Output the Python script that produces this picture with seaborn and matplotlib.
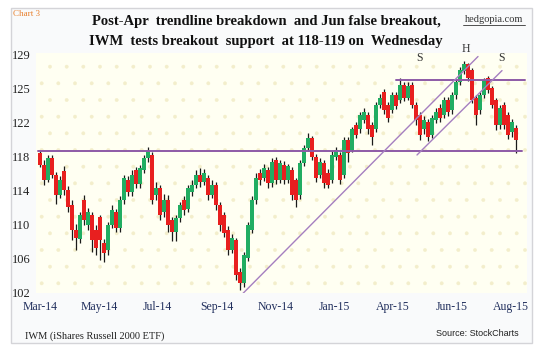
import numpy as np
import matplotlib
matplotlib.use("Agg")
import matplotlib.pyplot as plt
from matplotlib.patches import Rectangle
from matplotlib.lines import Line2D
import seaborn as sns

# IWM candles (one candle every few sessions)
opens = [117.8, 116.5, 114.8, 117.3, 115.3, 113.0, 115.8, 113.6, 111.9, 109.1,
         108.0, 112.5, 109.6, 110.8, 109.1, 110.5, 107.6, 106.8, 109.6, 111.1,
         109.3, 112.5, 114.8, 113.4, 115.9, 114.3, 115.9, 117.3, 117.6, 113.0,
         113.8, 111.1, 112.5, 110.2, 108.8, 110.4, 112.5, 111.5, 113.4, 114.2,
         115.3, 114.5, 115.0, 113.0, 114.2, 111.9, 110.8, 109.1, 106.8, 107.9,
         104.3, 103.0, 105.9, 109.1, 112.5, 115.6, 115.0, 115.9, 114.4, 117.0,
         114.8, 116.5, 114.8, 115.9, 114.8, 113.0, 116.7, 118.4, 119.5, 117.4,
         115.3, 116.7, 115.6, 114.8, 117.4, 117.6, 115.3, 119.3, 118.2, 121.0,
         120.5, 121.6, 122.2, 121.0, 120.5, 123.3, 124.8, 123.3, 122.7, 124.4,
         123.9, 125.6, 124.1, 125.6, 123.3, 122.2, 120.5, 121.4, 119.9, 121.6,
         123.0, 122.2, 123.9, 122.7, 124.4, 125.9, 127.1, 127.9, 127.3, 124.1,
         122.7, 124.4, 126.4, 125.2, 123.9, 121.0, 123.3, 122.2, 120.2, 120.7]
highs = [118.0, 117.0, 117.6, 117.6, 115.7, 115.2, 116.4, 114.1, 112.5, 109.8,
         111.1, 113.0, 111.6, 111.1, 109.6, 110.8, 108.0, 110.0, 111.9, 111.5,
         112.9, 115.3, 115.2, 115.9, 116.2, 116.5, 117.6, 118.5, 117.9, 114.5,
         114.2, 113.2, 113.0, 110.6, 110.8, 112.3, 112.9, 114.2, 114.8, 115.9,
         116.1, 116.0, 115.3, 114.8, 114.5, 112.2, 111.1, 109.5, 108.6, 108.2,
         104.8, 106.6, 110.0, 112.9, 115.5, 116.0, 116.6, 116.2, 117.2, 117.4,
         117.0, 116.9, 116.6, 116.2, 115.0, 117.0, 118.7, 120.1, 119.8, 117.7,
         117.2, 117.0, 116.0, 118.0, 118.5, 117.9, 119.6, 119.7, 120.8, 121.3,
         122.5, 122.9, 122.5, 121.3, 123.6, 124.5, 125.1, 123.6, 124.8, 124.8,
         126.4, 125.9, 125.9, 125.9, 123.6, 122.5, 122.0, 121.7, 122.2, 122.9,
         123.4, 124.2, 124.2, 124.8, 126.2, 127.6, 128.3, 128.1, 127.5, 124.4,
         124.8, 126.4, 126.6, 125.5, 124.1, 123.3, 123.6, 122.5, 121.7, 121.0]
lows = [116.2, 114.2, 114.5, 115.0, 112.0, 112.7, 113.0, 111.1, 107.9, 106.8,
        107.6, 109.6, 109.1, 106.6, 106.2, 105.6, 105.4, 106.2, 109.3, 108.8,
        108.8, 112.0, 112.9, 112.9, 113.8, 113.9, 115.6, 116.8, 112.0, 112.5,
        110.2, 110.6, 108.8, 107.8, 107.8, 110.0, 110.8, 111.1, 112.9, 113.8,
        114.0, 114.2, 112.5, 112.7, 111.3, 109.0, 108.3, 106.2, 106.4, 103.4,
        102.2, 102.6, 105.5, 108.7, 112.0, 114.2, 114.6, 113.9, 114.0, 114.3,
        114.4, 114.3, 114.4, 112.5, 111.7, 112.6, 116.3, 118.0, 117.0, 114.5,
        115.0, 113.9, 113.8, 114.4, 117.0, 114.3, 115.0, 116.8, 117.9, 119.5,
        120.1, 121.2, 120.0, 118.7, 120.2, 122.9, 122.3, 121.3, 122.4, 122.8,
        123.5, 123.7, 123.8, 122.9, 121.0, 119.3, 120.0, 119.2, 119.5, 121.2,
        121.4, 121.8, 122.0, 122.3, 124.0, 125.6, 126.8, 126.0, 123.5, 121.0,
        122.3, 124.1, 124.6, 122.9, 120.4, 120.5, 120.5, 119.4, 119.6, 117.8]
closes = [116.5, 114.8, 117.3, 115.3, 113.0, 114.8, 113.6, 111.7, 109.1, 108.2,
          110.8, 110.2, 111.1, 107.9, 107.0, 107.9, 106.4, 109.6, 111.3, 109.3,
          112.5, 115.0, 113.4, 115.3, 114.3, 116.1, 117.3, 118.0, 112.5, 113.8,
          110.8, 112.5, 109.6, 108.8, 110.4, 111.9, 111.3, 113.8, 114.2, 115.3,
          114.5, 115.6, 113.0, 114.2, 111.9, 109.6, 108.7, 106.8, 108.2, 103.9,
          103.0, 106.2, 109.6, 112.5, 115.0, 114.8, 116.1, 114.4, 116.8, 114.8,
          116.7, 114.8, 116.3, 113.0, 112.5, 116.7, 118.4, 119.5, 117.4, 115.0,
          116.8, 114.4, 114.2, 117.6, 118.2, 114.8, 119.3, 117.8, 120.5, 119.9,
          122.2, 122.5, 120.5, 119.7, 123.3, 124.1, 122.7, 121.8, 124.4, 123.2,
          125.6, 124.1, 125.5, 123.3, 121.6, 119.9, 121.6, 119.7, 121.8, 122.5,
          121.8, 123.9, 122.5, 124.4, 125.9, 127.3, 127.9, 126.4, 123.9, 122.2,
          124.4, 126.1, 125.0, 123.3, 121.0, 123.0, 121.0, 119.9, 121.4, 119.3]

month_labels = ["Mar-14", "May-14", "Jul-14", "Sep-14", "Nov-14",
                "Jan-15", "Apr-15", "Jun-15", "Aug-15"]
price_labels = ["102", "106", "110", "114", "118", "122", "125", "129"]

# support / resistance and trend channel (bar index, price)
support = 118.0
neckline = 126.15
trend_a = [(49.75, 101.4), (109.5, 128.8)]
trend_b = [(94.25, 117.6), (115.5, 127.2)]

sns.set_theme(style="white")
plt.rcParams["font.family"] = ["Liberation Serif", "DejaVu Serif"]
plt.rcParams["hatch.linewidth"] = 0.3

fig = plt.figure(figsize=(5.4, 3.53), dpi=100)
fig.patch.set_facecolor("white")
frame = Rectangle((11 / 540, 1 - 343 / 353), 521 / 540, 335 / 353,
                  transform=fig.transFigure, facecolor="#f9fafb",
                  edgecolor="#d4d4d8", linewidth=1.0, zorder=-5)
fig.patches.append(frame)

ax = fig.add_axes([36 / 540, 1 - 293 / 353, 491 / 540, 240 / 353])
ax.set_zorder(2)
ax.set_facecolor("#fffff2")
for s in ax.spines.values():
    s.set_visible(False)
# faint dotted paper
ax.add_patch(Rectangle((0, 0), 1, 1, transform=ax.transAxes, facecolor="none",
                       edgecolor="#f3eecb", hatch=".", linewidth=0, zorder=0))

o = np.array(opens)
h = np.array(highs)
l = np.array(lows)
c = np.array(closes)
idx = np.arange(len(c))
up = c >= o
cols = np.where(up, "#21ad62", "#e81f1f")

ax.vlines(idx, l, h, color="#1a1a1a", linewidth=0.9, zorder=2)
ax.bar(idx, np.maximum(np.abs(c - o), 0.15), bottom=np.minimum(o, c),
       width=0.85, color=cols, linewidth=0, zorder=3)

line_col = "#a57fc0"
sns.lineplot(x=[-0.5, 120.5], y=[support, support], color="#8d5aa6",
             linewidth=1.4, ax=ax, zorder=4)
sns.lineplot(x=[89, 121.3], y=[neckline, neckline], color="#8d5aa6",
             linewidth=1.4, ax=ax, zorder=4)
for seg in (trend_a, trend_b):
    sns.lineplot(x=[seg[0][0], seg[1][0]], y=[seg[0][1], seg[1][1]],
                 color=line_col, linewidth=1.0, ax=ax, zorder=4)

ax.set_xlim(-1, 121.75)
ax.set_ylim(101.9, 129.2)
ax.set_yticks(np.linspace(102, 129, len(price_labels)))
ax.set_yticklabels(price_labels, fontsize=9, color="#222222")
ax.set_xticks(np.linspace(0, 117.6, len(month_labels)))
ax.set_xticklabels(month_labels, fontsize=8.5, color="#22305e")
ax.tick_params(axis="y", length=0, pad=4)
ax.tick_params(axis="x", length=0, pad=6)
ax.grid(False)

# head & shoulders marks
ax.text(95, 128.6, "S", fontsize=8.5, ha="center", va="center", color="#333333")
ax.text(106.5, 129.6, "H", fontsize=8.5, ha="center", va="center", color="#333333", clip_on=False)
ax.text(115.3, 128.6, "S", fontsize=8.5, ha="center", va="center", color="#333333")

fig.text(266 / 540, 1 - 22 / 353, "Post-Apr  trendline breakdown  and Jun false breakout,",
         fontsize=10.5, fontweight="bold", ha="center", va="center", color="#111111")
fig.text(266 / 540, 1 - 41 / 353, "IWM  tests breakout  support  at 118-119 on  Wednesday",
         fontsize=10.5, fontweight="bold", ha="center", va="center", color="#111111")
fig.text(13 / 540, 1 - 14 / 353, "Chart 3", fontsize=6.5, color="#e8802e",
         ha="left", va="center")
fig.text(494 / 540, 1 - 20 / 353, "hedgopia.com", fontsize=7.5, color="#333333",
         ha="center", va="center")
fig.lines.append(Line2D([463 / 540, 525 / 540], [1 - 25 / 353, 1 - 25 / 353],
                        transform=fig.transFigure, color="#333333", linewidth=0.6))
fig.text(25 / 540, 1 - 336 / 353, "IWM (iShares Russell 2000 ETF)", fontsize=7.5,
         color="#222222", ha="left", va="center")
fig.text(519 / 540, 1 - 334 / 353, "Source: StockCharts", fontsize=6.5,
         color="#222222", ha="right", va="center", family=["Liberation Sans", "DejaVu Sans"])

fig.savefig("out.png", dpi=100)
